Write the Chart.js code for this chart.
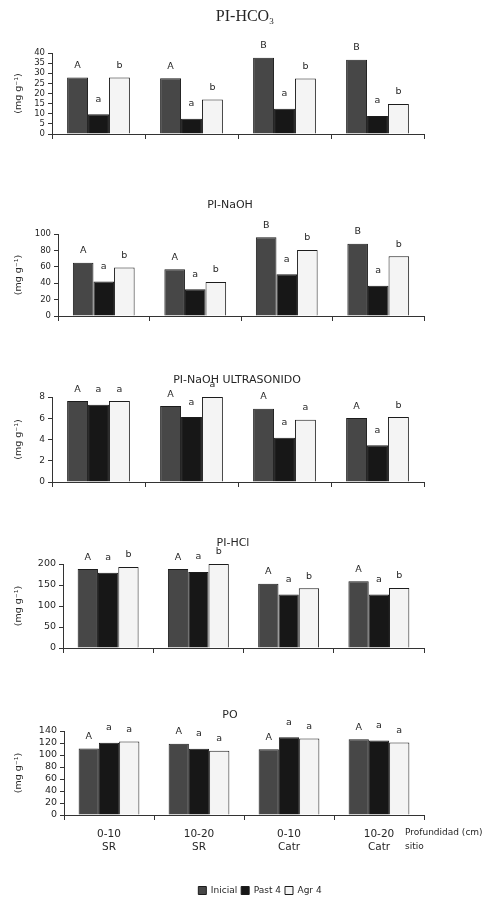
<!DOCTYPE html>
<html>
<head>
<meta charset="utf-8">
<script src="https://cdn.jsdelivr.net/npm/chart.js@4"></script>
<style>
  body { margin: 0; background: #fff; }
  #page { position: relative; width: 487px; height: 900px; overflow: hidden; }
  #page canvas { position: absolute; left: 0; }
</style>
</head>
<body>
<div id="page">
  <canvas id="c1" width="487" height="170" style="top:0px"></canvas>
  <canvas id="c2" width="487" height="170" style="top:170px"></canvas>
  <canvas id="c3" width="487" height="160" style="top:340px"></canvas>
  <canvas id="c4" width="487" height="170" style="top:500px"></canvas>
  <canvas id="c5" width="487" height="230" style="top:670px"></canvas>
  <canvas id="leg" width="200" height="50" style="top:882px; left:160px"></canvas>
</div>
<script>
// categories (profundidad / sitio) and series
var categories = [['0-10', 'SR'], ['10-20', 'SR'], ['0-10', 'Catr'], ['10-20', 'Catr']];
var seriesNames = ['Inicial', 'Past 4', 'Agr 4'];

// PI-HCO3
var hco3Inicial = [27.9, 27.5, 37.7, 36.7];
var hco3Past = [9.7, 7.5, 12.5, 8.9];
var hco3Agr = [27.9, 17.0, 27.4, 14.8];
var hco3Letters = [['A', 'A', 'B', 'B'], ['a', 'a', 'a', 'a'], ['b', 'b', 'b', 'b']];

// PI-NaOH
var naohInicial = [65, 57, 96, 88];
var naohPast = [42, 32.5, 51, 37];
var naohAgr = [59, 41.5, 80.5, 73];
var naohLetters = [['A', 'A', 'B', 'B'], ['a', 'a', 'a', 'a'], ['b', 'b', 'b', 'b']];

// PI-NaOH ULTRASONIDO
var ultraInicial = [7.62, 7.15, 6.9, 6.02];
var ultraPast = [7.27, 6.11, 4.17, 3.45];
var ultraAgr = [7.62, 8.0, 5.86, 6.11];
var ultraLetters = [['A', 'A', 'A', 'A'], ['a', 'a', 'a', 'a'], ['a', 'a', 'a', 'b']];

// PI-HCl
var hclInicial = [188, 188, 153, 159];
var hclPast = [179, 181, 127.5, 127.5];
var hclAgr = [193, 200, 142, 143];
var hclLetters = [['A', 'A', 'A', 'A'], ['a', 'a', 'a', 'a'], ['b', 'b', 'b', 'b']];

// PO
var poInicial = [111, 118.7, 109.4, 126.3];
var poPast = [120.3, 110.5, 129.6, 124.1];
var poAgr = [122.5, 107.2, 127.4, 120.9];
var poLetters = [['A', 'A', 'A', 'A'], ['a', 'a', 'a', 'a'], ['a', 'a', 'a', 'a']];

var FONT = '"DejaVu Sans", sans-serif';
var TXT = '#262626';
var barColors = ['#474747', '#171717', '#f4f4f4'];

Chart.defaults.font.family = FONT;
Chart.defaults.color = TXT;

// draws the panel title, the significance letters and (last panel) the axis captions
var panelText = {
	id: 'panelText',
	afterDatasetsDraw: function(chart, args, opts) {
		if (!opts.letters) return;
		var ctx = chart.ctx;
		ctx.save();
		ctx.fillStyle = TXT;
		ctx.textAlign = 'center';
		ctx.textBaseline = 'middle';
		ctx.font = '9.5px ' + FONT;
		var gaps = [12, 15, 12];
		chart.data.datasets.forEach(function(ds, i) {
			var meta = chart.getDatasetMeta(i);
			meta.data.forEach(function(bar, j) {
				ctx.fillText(opts.letters[i][j], bar.x, bar.y - gaps[i]);
			});
		});

		// title
		ctx.font = opts.titleFont;
		if (opts.sub) {
			var w = ctx.measureText(opts.title).width;
			ctx.textAlign = 'left';
			var x0 = opts.titleX - (w + 5) / 2;
			ctx.fillText(opts.title, x0, opts.titleY);
			ctx.font = '9px "Liberation Serif", serif';
			ctx.fillText(opts.sub, x0 + w, opts.titleY + 5);
		} else {
			ctx.fillText(opts.title, opts.titleX, opts.titleY);
		}

		if (opts.captions) {
			var a = chart.chartArea;
			ctx.font = '9px ' + FONT;
			ctx.textAlign = 'left';
			ctx.fillText('Profundidad (cm)', a.right - 19, a.bottom + 18);
			ctx.fillText('sitio', a.right - 19, a.bottom + 32);
		}
		ctx.restore();
	}
};

function seriesDatasets(values) {
	var datasets = [];
	for (var i = 0; i < 3; i++) {
		datasets.push({
			label: seriesNames[i],
			data: values[i],
			backgroundColor: barColors[i],
			borderColor: '#1c1c1c',
			borderWidth: 1,
			categoryPercentage: 0.675,
			barPercentage: 1.0
		});
	}
	return datasets;
}

function makePanel(id, values, letters, yMax, step, lay, titleOpts, last) {
	var plotLeft = lay.plotLeft;

	return new Chart(document.getElementById(id), {
		type: 'bar',
		data: { labels: categories, datasets: seriesDatasets(values) },
		plugins: [panelText],
		options: {
			responsive: false,
			animation: false,
			layout: { padding: { top: lay.padTop, left: 13, right: 63, bottom: lay.padBottom } },
			plugins: {
				legend: { display: false },
				tooltip: { enabled: false },
				panelText: {
					letters: letters,
					title: titleOpts.text,
					sub: titleOpts.sub,
					titleFont: titleOpts.font,
					titleX: titleOpts.x,
					titleY: titleOpts.y,
					captions: last
				}
			},
			scales: {
				x: {
					offset: true,
					grid: { offset: true, drawOnChartArea: false, drawTicks: true, tickLength: 5, color: '#333' },
					border: { color: '#333', width: 1 },
					ticks: {
						display: !!last,
						maxRotation: 0,
						autoSkip: false,
						padding: 7,
						color: TXT,
						font: { size: 10.5, lineHeight: 1.3 }
					},
					afterFit: function(s) { s.height = lay.xH; }
				},
				y: {
					min: 0,
					max: yMax,
					ticks: { stepSize: step, autoSkip: false, padding: 3, color: TXT, font: { size: lay.tickSize } },
					grid: { drawOnChartArea: false, drawTicks: true, tickLength: 4, color: '#333' },
					border: { color: '#333', width: 1 },
					title: { display: true, text: '(mg g\u207B\u00B9)', padding: 0, color: TXT, font: { size: 9.5 } },
					afterFit: function(s) { s.width = plotLeft - 13; }
				}
			}
		}
	});
}

var sansTitle = '11px ' + FONT;

makePanel('c1', [hco3Inicial, hco3Past, hco3Agr], hco3Letters, 40, 5,
	{ padTop: 53, padBottom: 26, plotLeft: 52, xH: 10, tickSize: 8.5 },
	{ text: 'PI-HCO', sub: '3', font: '16px "Liberation Serif", serif', x: 245, y: 17 });

makePanel('c2', [naohInicial, naohPast, naohAgr], naohLetters, 100, 20,
	{ padTop: 64, padBottom: 14, plotLeft: 58, xH: 10, tickSize: 8.5 },
	{ text: 'PI-NaOH', font: sansTitle, x: 230, y: 35 });

makePanel('c3', [ultraInicial, ultraPast, ultraAgr], ultraLetters, 8, 2,
	{ padTop: 57, padBottom: 8, plotLeft: 52, xH: 10, tickSize: 9 },
	{ text: 'PI-NaOH ULTRASONIDO', font: sansTitle, x: 237, y: 40 });

makePanel('c4', [hclInicial, hclPast, hclAgr], hclLetters, 200, 50,
	{ padTop: 64, padBottom: 12, plotLeft: 63, xH: 10, tickSize: 9.5 },
	{ text: 'PI-HCl', font: sansTitle, x: 233, y: 43 });

makePanel('c5', [poInicial, poPast, poAgr], poLetters, 140, 20,
	{ padTop: 61, padBottom: 0, plotLeft: 64, xH: 85, tickSize: 9.5 },
	{ text: 'PO', font: sansTitle, x: 230, y: 45 }, true);

// shared legend, centred under the panels like in the figure
new Chart(document.getElementById('leg'), {
	type: 'bar',
	data: { labels: [], datasets: seriesDatasets([[], [], []]) },
	options: {
		responsive: false,
		animation: false,
		layout: { padding: 0 },
		plugins: {
			legend: {
				display: true,
				position: 'top',
				labels: { boxWidth: 8, boxHeight: 8, padding: 4, color: TXT, font: { size: 9 } }
			},
			tooltip: { enabled: false }
		},
		scales: { x: { display: false }, y: { display: false } }
	}
});
</script>
</body>
</html>
